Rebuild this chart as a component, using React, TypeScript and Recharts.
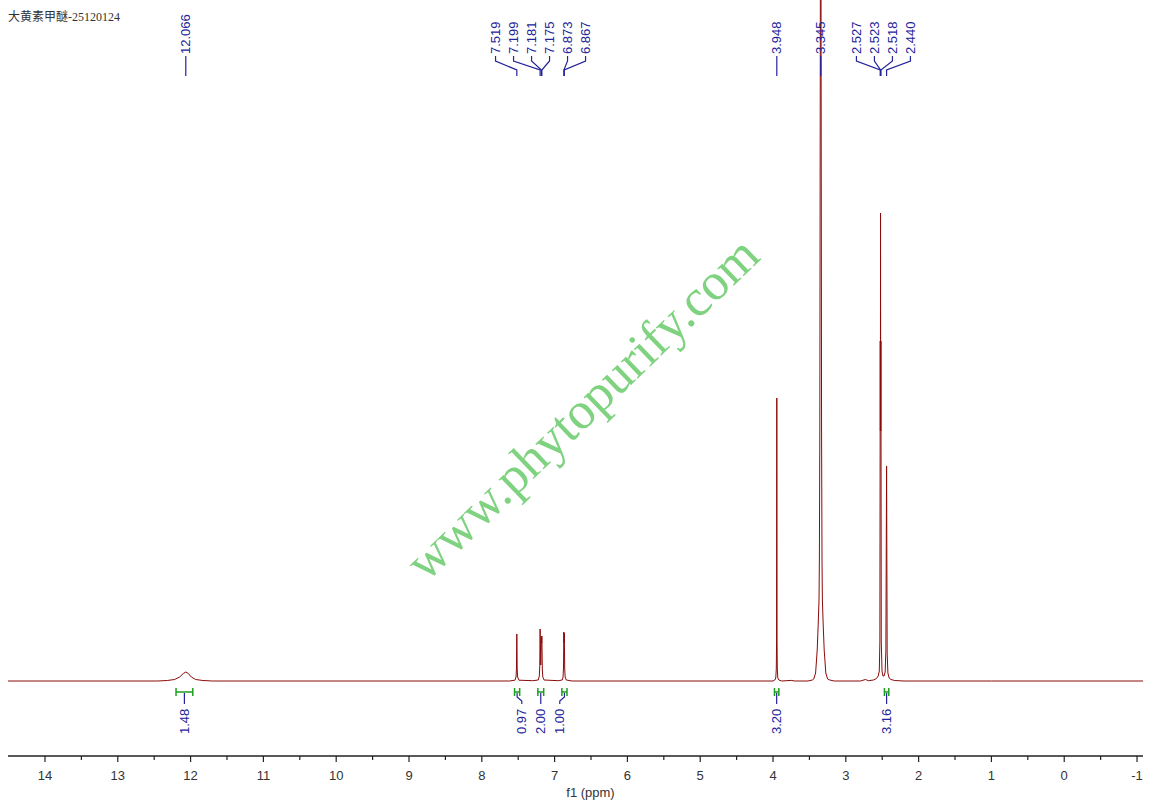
import { LineChart, Line, XAxis, YAxis, ReferenceDot, ReferenceLine } from "recharts";

// ---- spectrum, [ppm, intensity] (intensity ~ px above baseline)
const baseLeft = [[14.508, 0], [12.45, 0]];
const peakOH = [[12.32, 0.5], [12.22, 1.5], [12.15, 4], [12.1, 7.5], [12.066, 9], [12.03, 7.5], [11.99, 4], [11.93, 1.5], [11.83, 0.5], [11.7, 0]];
const peaksAromatic = [
  [7.62, 0], [7.545, 0.8], [7.53, 4], [7.524, 12], [7.519, 47], [7.514, 12], [7.508, 4], [7.49, 0.8],
  [7.3, 0.3], [7.225, 1], [7.21, 5], [7.204, 14], [7.199, 52], [7.19, 16], [7.181, 44], [7.178, 38], [7.175, 45], [7.169, 12], [7.162, 4], [7.145, 1],
  [6.95, 0.3], [6.895, 1], [6.884, 4], [6.878, 13], [6.873, 49], [6.87, 38], [6.867, 48], [6.861, 12], [6.855, 4], [6.84, 1], [6.76, 0],
];
const peakOMe = [[4.0, 0], [3.975, 1], [3.962, 3], [3.955, 12], [3.951, 40], [3.948, 283], [3.945, 40], [3.941, 12], [3.934, 3], [3.92, 1], [3.88, 0], [3.75, 0.6], [3.7, 0]];
const peakWater = [
  [3.52, 0], [3.46, 1], [3.44, 2], [3.415, 8], [3.393, 31], [3.38, 55], [3.368, 81], [3.363, 121], [3.357, 250], [3.351, 600],
  [3.345, 1000],
  [3.339, 600], [3.333, 250], [3.327, 121], [3.322, 81], [3.31, 55], [3.297, 31], [3.275, 8], [3.25, 2], [3.22, 1], [3.16, 0],
];
const peaksMe = [
  [2.8, 0], [2.73, 1.5], [2.69, 0.3], [2.62, 1], [2.58, 2.5], [2.555, 5], [2.54, 10], [2.532, 40], [2.527, 340], [2.525, 250], [2.523, 468],
  [2.521, 250], [2.518, 340], [2.513, 40], [2.503, 10], [2.49, 5], [2.475, 5], [2.46, 9], [2.45, 30], [2.44, 215], [2.432, 28],
  [2.422, 8], [2.405, 3], [2.38, 1.5], [2.33, 0.5], [2.2, 0],
];
const baseRight = [[1.0, 0], [-1.082, 0]];

// peak picking labels, grouped as printed
const peakGroups = [[12.066], [7.519, 7.199, 7.181, 7.175, 6.873, 6.867], [3.948], [3.345], [2.527, 2.523, 2.518, 2.44]];

// integrals
const integralFrom = [12.2, 7.55, 7.23, 6.9, 3.98, 2.47];
const integralTo = [11.97, 7.48, 7.15, 6.83, 3.92, 2.41];
const integralValues = ["1.48", "0.97", "2.00", "1.00", "3.20", "3.16"];
const integralGroup = [0, 1, 1, 1, 2, 3];

const xTicks = [14, 13.5, 13, 12.5, 12, 11.5, 11, 10.5, 10, 9.5, 9, 8.5, 8, 7.5, 7, 6.5, 6, 5.5, 5, 4.5, 4, 3.5, 3, 2.5, 2, 1.5, 1, 0.5, 0, -0.5, -1];

const W = 1154;
const H = 809;
const M = { top: 0, right: 11, bottom: 0, left: 8 };
const X_MIN = -1.082;
const X_MAX = 14.508;
const K = (W - M.left - M.right) / (X_MAX - X_MIN); // px per ppm
const BLUE = "#23239a";
const GREEN = "#1e9e1e";
const FONT = "'Liberation Sans', Arial, sans-serif";

const spectrum = [...baseLeft, ...peakOH, ...peaksAromatic, ...peakOMe, ...peakWater, ...peaksMe, ...baseRight].map(([ppm, v]) => ({ ppm, v }));

function AxisTick(props: any) {
  const { x, y, payload } = props;
  const major = Number.isInteger(payload.value);
  return (
    <g>
      <line x1={x} x2={x} y1={y} y2={y + (major ? 6 : 4)} stroke="#222" strokeWidth={1.2} />
      {major && (
        <text x={x} y={y + 24} textAnchor="middle" fontSize={13} fill="#333" fontFamily={FONT}>
          {payload.value}
        </text>
      )}
    </g>
  );
}

function peakLabelShape(ppm: number, group: number[], i: number) {
  const mid = (Math.max(...group) + Math.min(...group)) / 2;
  return (p: any) => {
    const px = p.cx;
    const lx = px + (ppm - mid) * K + (i - (group.length - 1) / 2) * 18;
    const pts = `${lx},56 ${lx},61 ${px},70 ${px},76`;
    return (
      <g>
        <polyline points={pts} fill="none" stroke={BLUE} strokeWidth={1.2} />
        <text
          x={lx}
          y={54}
          transform={`rotate(-90 ${lx} 54)`}
          dy="0.35em"
          fontSize={13}
          fill={BLUE}
          fontFamily={FONT}
        >
          {ppm.toFixed(3)}
        </text>
      </g>
    );
  };
}

function bracketShape(p: any) {
  const { x1, x2, y1 } = p;
  return (
    <g stroke={GREEN} strokeWidth={1.5}>
      <line x1={x1} x2={x2} y1={y1} y2={y1} />
      <line x1={x1} x2={x1} y1={y1 - 4} y2={y1 + 4} />
      <line x1={x2} x2={x2} y1={y1 - 4} y2={y1 + 4} />
    </g>
  );
}

function integralLabelShape(k: number) {
  const members = integralGroup.map((g, j) => (g === integralGroup[k] ? j : -1)).filter((j) => j >= 0);
  const mids = members.map((j) => (integralFrom[j] + integralTo[j]) / 2);
  const gMid = (Math.max(...mids) + Math.min(...mids)) / 2;
  const i = members.indexOf(k);
  const myMid = (integralFrom[k] + integralTo[k]) / 2;
  return (p: any) => {
    const px = p.cx;
    const lx = px + (myMid - gMid) * K + (i - (members.length - 1) / 2) * 19;
    return (
      <g>
        <polyline points={`${px},693 ${px},697 ${lx},701 ${lx},704`} fill="none" stroke={BLUE} strokeWidth={1.2} />
        <text
          x={lx}
          y={734}
          transform={`rotate(-90 ${lx} 734)`}
          dy="0.35em"
          fontSize={13}
          fill={BLUE}
          fontFamily={FONT}
        >
          {integralValues[k]}
        </text>
      </g>
    );
  };
}

export default function App() {
  return (
    <div style={{ position: "absolute", left: 0, top: 0, width: W, height: H, background: "#fff" }}>
      <div
        style={{
          position: "absolute",
          left: 8,
          top: 7,
          fontSize: 12,
          color: "#333",
          fontFamily: "'Liberation Serif', 'Noto Sans CJK SC', serif",
          whiteSpace: "nowrap",
        }}
      >
        大黄素甲醚-25120124
      </div>
      <LineChart width={W} height={H} data={spectrum} margin={M}>
        <XAxis
          dataKey="ppm"
          type="number"
          domain={[X_MIN, X_MAX]}
          reversed
          allowDataOverflow
          ticks={xTicks}
          interval={0}
          tickLine={false}
          tickSize={0}
          tickMargin={0}
          tick={AxisTick}
          height={53}
          axisLine={{ stroke: "#222", strokeWidth: 1.5 }}
          label={{ value: "f1 (ppm)", position: "insideBottom", offset: 12, dx: 15, fontSize: 13, fill: "#333", fontFamily: FONT }}
        />
        <YAxis hide type="number" domain={[-75, 681]} allowDataOverflow />
        <Line
          type="linear"
          dataKey="v"
          stroke="#8b0a0a"
          strokeWidth={1}
          dot={false}
          isAnimationActive={false}
        />
        {integralFrom.map((f, k) => (
          <ReferenceLine
            key={`b${k}`}
            segment={[{ x: f, y: -11 }, { x: integralTo[k], y: -11 }]}
            shape={bracketShape}
            ifOverflow="visible"
          />
        ))}
        {integralFrom.map((f, k) => (
          <ReferenceDot
            key={`il${k}`}
            x={(f + integralTo[k]) / 2}
            y={-11}
            shape={integralLabelShape(k)}
            ifOverflow="visible"
          />
        ))}
        {peakGroups.flatMap((g, gi) =>
          g.map((ppm, i) => (
            <ReferenceDot key={`p${gi}-${i}`} x={ppm} y={0} shape={peakLabelShape(ppm, g, i)} ifOverflow="visible" />
          ))
        )}
      </LineChart>
      <div
        style={{
          position: "absolute",
          left: 582,
          top: 408,
          transform: "translate(-50%, -50%) rotate(-44deg)",
          fontFamily: "'Liberation Serif', 'Times New Roman', serif",
          fontSize: 52,
          color: "#7fd27f",
          whiteSpace: "nowrap",
          pointerEvents: "none",
        }}
      >
        www.phytopurify.com
      </div>
    </div>
  );
}
